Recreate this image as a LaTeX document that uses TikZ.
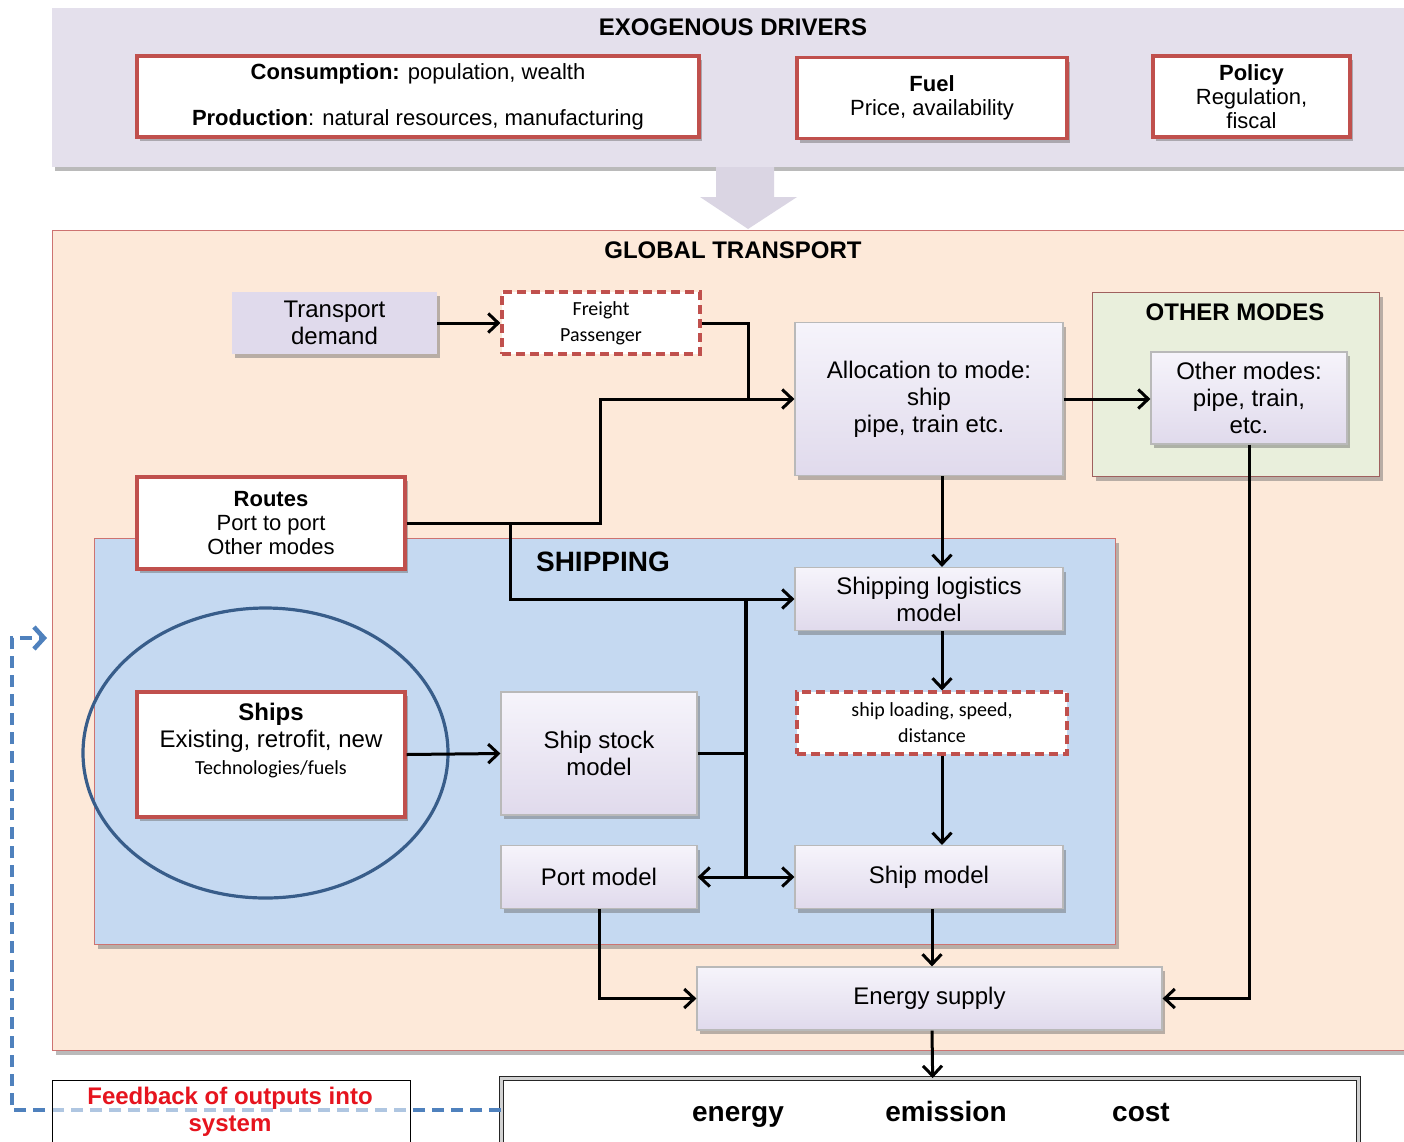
\documentclass[tikz,border=0pt]{standalone}
\usepackage{fontspec}
\setmainfont{Liberation Sans}
\newfontfamily\calib{Carlito}
\usetikzlibrary{arrows.meta,shadows,calc}
\definecolor{redb}{RGB}{192,80,77}
\definecolor{exof}{RGB}{228,224,236}
\definecolor{bigarr}{RGB}{218,213,227}
\definecolor{peach}{RGB}{253,233,217}
\definecolor{shipf}{RGB}{197,217,241}
\definecolor{omf}{RGB}{233,239,220}
\definecolor{lav}{RGB}{224,218,236}
\definecolor{lavlight}{RGB}{246,244,251}
\definecolor{ellc}{RGB}{56,93,138}
\definecolor{fbblue}{RGB}{79,129,189}
\definecolor{fbred}{RGB}{230,20,30}
\begin{document}
\begin{tikzpicture}[x=1pt,y=-1pt,
  shad/.style={drop shadow={shadow xshift=3pt,shadow yshift=-4pt,opacity=0.45,fill=black!60}},
  panel/.style={anchor=north west,inner sep=0pt,shad},
  redbox/.style={draw=redb,line width=3.2pt,fill=white,shad,align=center,inner sep=0pt},
  dashbox/.style={draw=redb,line width=3.2pt,dashed,dash pattern=on 9pt off 5pt,fill=white,align=center,inner sep=0pt},
  modelbox/.style={draw=gray!55,line width=1.2pt,top color=lavlight,bottom color=lav,shad,align=center,inner sep=0pt},
  fA/.style={font=\fontsize{22}{24}\selectfont},
  fB/.style={font=\fontsize{24}{27}\selectfont},
  fC/.style={font=\calib\fontsize{20}{26}\selectfont},
  ttl/.style={font=\bfseries\fontsize{24}{26}\selectfont},
  outt/.style={font=\bfseries\fontsize{28}{30}\selectfont,anchor=base},
  conn/.style={line width=3pt,draw=black},
  arr/.style={conn,-{Straight Barb[length=10pt,width=19pt,line width=3pt]}},
  fbline/.style={draw=fbblue,line width=4.5pt,dash pattern=on 12pt off 7pt,-{Straight Barb[length=10pt,width=22pt,line width=4.5pt]}}
]
\useasboundingbox (0,0) rectangle (1404,1141);
\fill[white] (0,0) rectangle (1404,1141);

% ---------- exogenous drivers ----------
\node[panel,fill=exof,minimum width=1370,minimum height=159] (exo) at (52,8) {};
\node[ttl] (exot) at (733,27) {EXOGENOUS DRIVERS};
\node[redbox,fA,minimum width=562,minimum height=81] (cons) at (418,96.5)
  {\textbf{Consumption:} population, wealth\\[22pt]\textbf{Production}: natural resources, manufacturing};
\node[redbox,fA,minimum width=270,minimum height=81] (fuel) at (932,98)
  {\textbf{Fuel}\\Price, availability};
\node[redbox,fA,minimum width=197,minimum height=81] (policy) at (1251.5,96.5)
  {\textbf{Policy}\\Regulation,\\fiscal};

% big arrow
\fill[bigarr] (716,167) -- (774,167) -- (774,197) -- (797,197) -- (748,229) -- (700,197) -- (716,197) -- cycle;

% ---------- global transport ----------
\node[panel,fill=peach,draw=redb!80,line width=1.2pt,minimum width=1370,minimum height=820] (glob) at (52,230) {};
\node[ttl] (globt) at (733,250) {GLOBAL TRANSPORT};

\node[panel,fill=omf,draw=redb!70!black!80,line width=1.2pt,minimum width=287,minimum height=184] (ompanel) at (1092,292) {};
\node[ttl] (omt) at (1235,312) {OTHER MODES};

\node[panel,fill=shipf,draw=redb!80,line width=1.2pt,minimum width=1021,minimum height=406] (shipp) at (94,538) {};
\node[font=\bfseries\fontsize{28}{30}\selectfont] (shipt) at (603,562) {SHIPPING};

% nodes
\node[fB,fill=lav,shad,align=center,inner sep=0pt,minimum width=205,minimum height=62] (td) at (334.5,323) {Transport\\demand};
\node[dashbox,fC,minimum width=198,minimum height=62] (fp) at (601,323) {Freight\\Passenger};
\node[modelbox,fB,minimum width=268,minimum height=153] (alloc) at (929,399) {Allocation to mode:\\ship\\pipe, train etc.};
\node[modelbox,fB,minimum width=196,minimum height=92] (om) at (1249,398) {Other modes:\\pipe, train,\\etc.};
\node[redbox,fA,minimum width=268,minimum height=92] (routes) at (271,523) {\textbf{Routes}\\Port to port\\Other modes};
\node[modelbox,fB,minimum width=268,minimum height=63] (logi) at (929,599) {Shipping logistics\\model};
\node[dashbox,fC,minimum width=270,minimum height=62] (load) at (932,723) {ship loading, speed,\\distance};
\node[modelbox,fB,minimum width=268,minimum height=63] (shipm) at (929,877) {Ship model};
\node[redbox,minimum width=268,minimum height=125] (ships) at (271,754.5) {};
\node[fB,align=center] (shipstxt) at (271,741) {\textbf{Ships}\\Existing, retrofit, new\\{\calib\fontsize{20}{24}\selectfont Technologies/fuels}};
\node[modelbox,fB,minimum width=196,minimum height=123] (stock) at (599,753.5) {Ship stock\\model};
\node[modelbox,fB,minimum width=196,minimum height=63] (port) at (599,877) {Port model};
\node[modelbox,fB,minimum width=465,minimum height=63] (energy) at (929.5,998.5) {Energy supply};

\draw[ellc,line width=3.2pt] (265.5,753) ellipse [x radius=182.5,y radius=145];

% ---------- outputs ----------
\node[anchor=north west,draw=black!85,line width=1.3pt,double=gray!35,double distance=2.5pt,fill=white,minimum width=857,minimum height=72,inner sep=0pt] (out) at (501,1078) {};
\node[outt] (oute) at (738,1121) {energy};
\node[outt] (outm) at (946,1121) {emission};
\node[outt] (outc) at (1141,1121) {cost};

% feedback
\coordinate (fbc) at (12,638);
\coordinate (fbend) at (47,638);
\draw[fbline] (501,1110) -| (fbc) -- (fbend);
\node[anchor=north west,draw=black,line width=1.3pt,fill=white,fill opacity=0.55,minimum width=358,minimum height=75,inner sep=0pt] (fb) at (52,1080) {};
\node[font=\bfseries\fontsize{24}{27}\selectfont,text=fbred,align=center] (fbt) at (230,1112) {Feedback of outputs into\\system};

% ---------- connectors ----------
\coordinate (j1) at (748,399);
\coordinate (j2) at (600,523);
\coordinate (j3) at (510,523);
\coordinate (j5) at (746,599);
\coordinate (j6) at (746,877);

\draw[arr] (td.east) -- (fp.west);
\draw[conn] (fp.east) -| (j1);
\draw[arr] (j1) -- (alloc.west);
\draw[conn] (routes.east) -- (j2) |- (j1);
\draw[arr] (j3) |- (logi.west);
\draw[arr] (alloc.east) -- (alloc.east -| om.west);
\draw[arr] (om.south) |- (energy.east);
\draw[arr] ([xshift=13pt]alloc.south) -- ([xshift=13pt]logi.north);
\draw[arr] ([xshift=13pt]logi.south) -- ([xshift=10pt]load.north);
\draw[arr] ([xshift=10pt]load.south) -- ([xshift=13pt]shipm.north);
\draw[arr] (ships.east) -- (stock.west);
\draw[conn] (stock.east) -- (stock.east -| j6);
\draw[line width=4pt] (j5) -- (j6);
\draw[arr] (j6) -- (port.east);
\draw[arr] (j6) -- (shipm.west);
\draw[arr] (port.south) |- (energy.west);
\draw[arr] ([xshift=3pt]shipm.south) -- ([xshift=2.5pt]energy.north);
\draw[arr] ([xshift=2.5pt]energy.south) -- ([xshift=2.5pt]out.north);
\end{tikzpicture}
\end{document}
